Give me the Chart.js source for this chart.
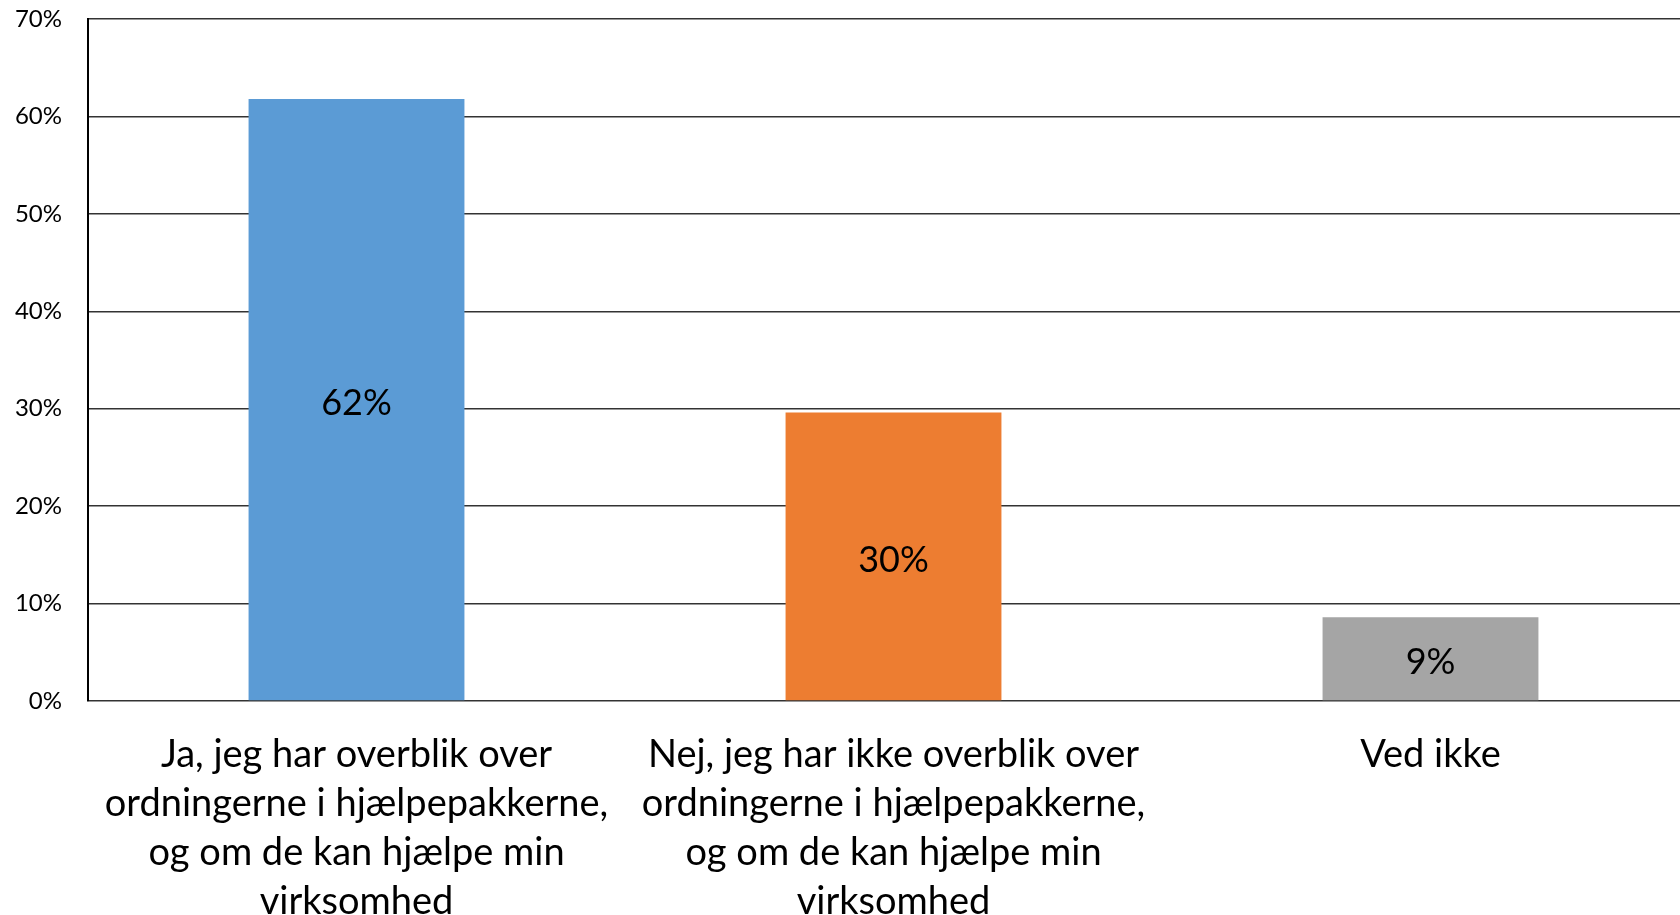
<!DOCTYPE html>
<html>
<head>
<meta charset="utf-8">
<script src="https://cdn.jsdelivr.net/npm/chart.js@4"></script>
<style>
  html, body { margin: 0; padding: 0; background: #fff; overflow: hidden; }
  #wrap { width: 1699px; height: 915px; position: relative; }
</style>
</head>
<body>
<div id="wrap"><canvas id="barChart"></canvas></div>
<script>
// Svar paa spoergsmaalet om overblik over hjaelpepakkerne
const categories = [
    ['Ja, jeg har overblik over', 'ordningerne i hjælpepakkerne,', 'og om de kan hjælpe min', 'virksomhed'],
    ['Nej, jeg har ikke overblik over', 'ordningerne i hjælpepakkerne,', 'og om de kan hjælpe min', 'virksomhed'],
    ['Ved ikke']
];
const shares = [61.8, 29.6, 8.6];
const shareLabels = ['62%', '30%', '9%'];
const barColors = ['#5B9BD5', '#ED7D31', '#A5A5A5'];
const yTicks = [0, 10, 20, 30, 40, 50, 60, 70];

const FONT = 'Lato, "Noto Sans", sans-serif';

// tegner procenttallet midt i hver soejle
const centerLabels = {
    id: 'centerLabels',
    afterDatasetsDraw(chart) {
        const ctx = chart.ctx;
        const meta = chart.getDatasetMeta(0);
        ctx.save();
        ctx.font = '36px ' + FONT;
        ctx.fillStyle = '#000';
        ctx.textAlign = 'center';
        ctx.textBaseline = 'middle';
        meta.data.forEach((bar, i) => {
            ctx.fillText(shareLabels[i], bar.x, (bar.y + bar.base) / 2 + 4);
        });
        ctx.restore();
    }
};

document.addEventListener('DOMContentLoaded', () => {
    const ctx = document.getElementById('barChart').getContext('2d');
    new Chart(ctx, {
        type: 'bar',
        data: {
            labels: categories,
            datasets: [{
                data: shares,
                backgroundColor: barColors,
                borderWidth: 0,
                barPercentage: 1,
                categoryPercentage: 0.402
            }]
        },
        options: {
            responsive: true,
            maintainAspectRatio: false,
            animation: false,
            layout: { padding: 0 },
            plugins: {
                legend: { display: false },
                tooltip: { enabled: false }
            },
            scales: {
                x: {
                    grid: { display: false },
                    border: { display: false },
                    ticks: {
                        color: '#000',
                        font: { family: FONT, size: 38, lineHeight: 1.29 },
                        padding: 21,
                        maxRotation: 0,
                        autoSkip: false
                    },
                    afterFit(scale) {
                        scale.height = 214;
                        scale.paddingTop = 0;
                    }
                },
                y: {
                    min: 0,
                    max: 70,
                    afterBuildTicks(scale) { scale.ticks = yTicks.map(v => ({ value: v })); },
                    grid: { color: '#333', lineWidth: 1.5, drawTicks: false },
                    border: { display: true, color: '#000', width: 2 },
                    ticks: {
                        color: '#000',
                        font: { family: FONT, size: 24 },
                        padding: 26,
                        callback: v => v + '%'
                    },
                    afterFit(scale) {
                        scale.width = 88;
                        scale.paddingTop = 19;
                        scale.paddingBottom = 0;
                    }
                }
            }
        },
        plugins: [centerLabels]
    });
});
</script>
</body>
</html>
